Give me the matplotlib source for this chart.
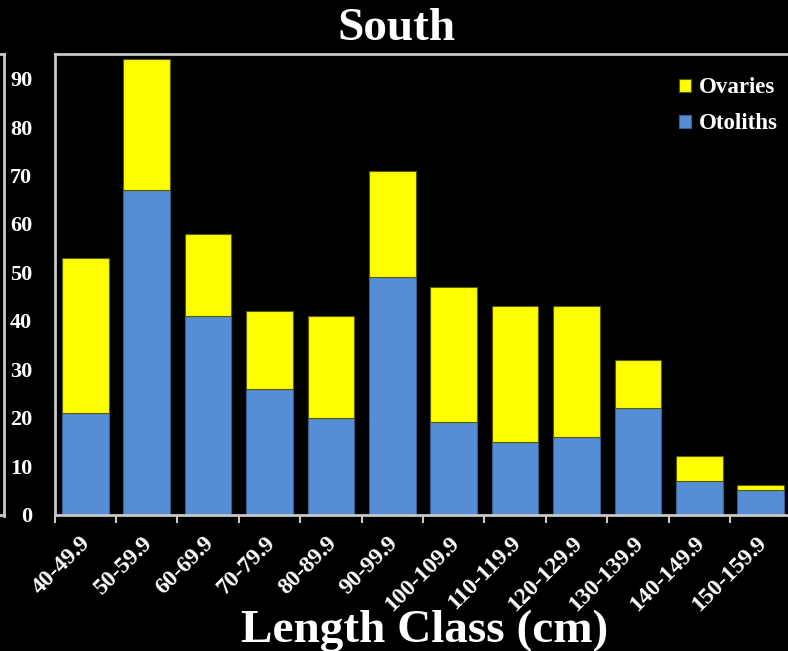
import matplotlib
matplotlib.use("Agg")
import matplotlib.pyplot as plt
import matplotlib.transforms as mtransforms
from matplotlib.lines import Line2D
import numpy as np

categories = ["40-49.9", "50-59.9", "60-69.9", "70-79.9", "80-89.9", "90-99.9",
              "100-109.9", "110-119.9", "120-129.9", "130-139.9", "140-149.9", "150-159.9"]
otoliths = [21, 67, 41, 26, 20, 49, 19, 15, 16, 22, 7, 5]
ovaries = [32, 27, 17, 16, 21, 22, 28, 28, 27, 10, 5, 1]
yticks = [0, 10, 20, 30, 40, 50, 60, 70, 80, 90]

W, H = 788, 651
fig = plt.figure(figsize=(W / 100, H / 100), dpi=100, facecolor="black")
left, right, bottom, top = 54.5, 791.5, 514.5, 53.5
ax = fig.add_axes([left / W, 1 - bottom / H, (right - left) / W, (bottom - top) / H])
ax.set_facecolor("black")

serif = ["Liberation Serif", "DejaVu Serif"]
grey = "#c8c8c8"
x = np.arange(len(categories))
blue = "#558ED5"
yellow = "#FFFF00"
ax.bar(x, otoliths, width=0.76, color=blue, edgecolor="#3a5f8f", linewidth=0.8, label="Otoliths", zorder=2)
ax.bar(x, ovaries, width=0.76, bottom=otoliths, color=yellow, edgecolor="#5a5a00", linewidth=0.8, label="Ovaries", zorder=2)

ax.set_xlim(-0.5, len(categories) - 0.5)
ax.set_ylim(0, 95.2)
ax.set_yticks(yticks)
ax.set_yticklabels([str(v) for v in yticks], fontsize=16, fontweight="bold", family=serif, color="white")
ax.tick_params(axis="y", length=0, pad=16)
ax.set_xticks(x)
ax.set_xticklabels(categories, rotation=45, ha="right", rotation_mode="anchor",
                   fontsize=17, fontweight="bold", family=serif, color="white")
ax.tick_params(axis="x", which="major", length=0, pad=13)
shift = mtransforms.ScaledTranslation(-5 / 100, 0, fig.dpi_scale_trans)
for lbl in ax.get_xticklabels():
    lbl.set_transform(lbl.get_transform() + shift)
ax.set_xticks(np.arange(-0.5, len(categories), 1.0), minor=True)
ax.tick_params(axis="x", which="minor", length=6, width=1.5, color=grey, direction="out")

for s in ["left", "bottom", "top", "right"]:
    ax.spines[s].set_color(grey)
    ax.spines[s].set_linewidth(2)

handles, labels = ax.get_legend_handles_labels()
leg = ax.legend(handles[::-1], labels[::-1], loc="upper right", bbox_to_anchor=(1.0, 0.978),
                frameon=False, prop={"family": serif, "weight": "bold", "size": 16.5},
                handlelength=0.5, handleheight=0.5, handletextpad=0.35, labelspacing=0.65,
                borderaxespad=0.2)
for t in leg.get_texts():
    t.set_color("white")

fig.text(397 / W, 1 - 29 / H, "South", ha="center", va="center", fontsize=34,
         fontweight="bold", family=serif, color="white")
fig.text(425 / W, 1 - 631 / H, "Length Class (cm)", ha="center", va="center", fontsize=34,
         fontweight="bold", family=serif, color="white")

# remnant frame at the far left edge
fig.add_artist(Line2D([3.5 / W, 3.5 / W], [1 - 54 / H, 1 - 516 / H], color=grey, lw=2, transform=fig.transFigure))
fig.add_artist(Line2D([0, 3.5 / W], [1 - 54 / H, 1 - 54 / H], color=grey, lw=2, transform=fig.transFigure))
fig.add_artist(Line2D([0, 3.5 / W], [1 - 514.5 / H, 1 - 514.5 / H], color=grey, lw=2, transform=fig.transFigure))

fig.savefig("out.png", dpi=100, facecolor="black")
